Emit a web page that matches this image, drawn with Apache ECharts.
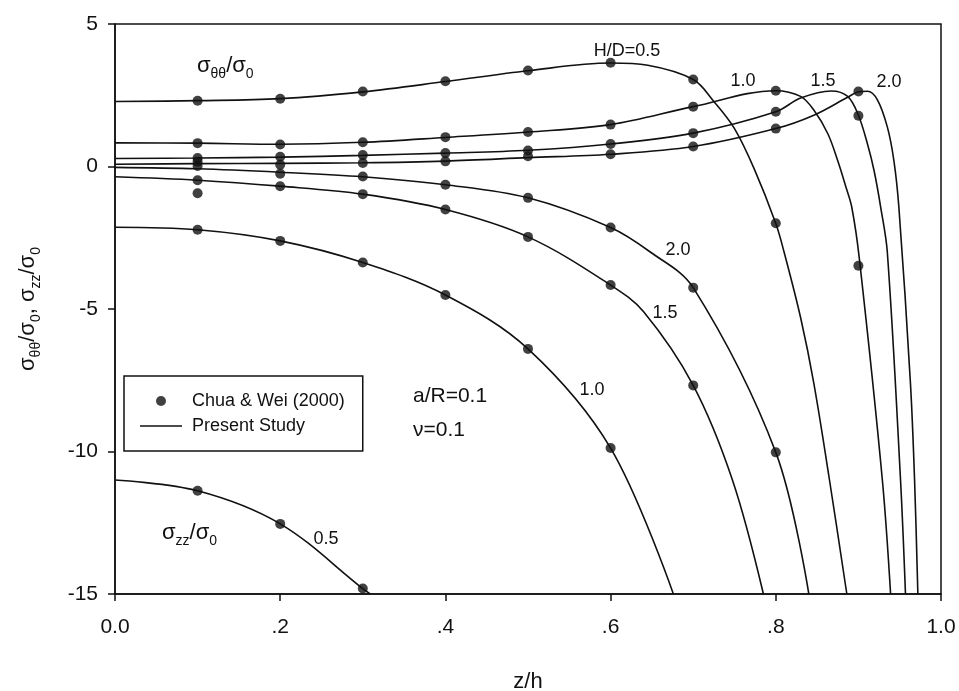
<!DOCTYPE html>
<html>
<head>
<meta charset="utf-8">
<script src="https://cdn.jsdelivr.net/npm/echarts@6/dist/echarts.min.js"></script>
<style>
  html, body { margin: 0; padding: 0; background: #ffffff; }
  #chart { width: 959px; height: 691px; }
</style>
</head>
<body>
<div id="chart"></div>
<script>
// ---- axis ticks ----
const xTicks = [0, 0.2, 0.4, 0.6, 0.8, 1.0];
const xTickLabels = ['0.0', '.2', '.4', '.6', '.8', '1.0'];
const yTicks = [-15, -10, -5, 0, 5];

// ---- Present Study: hoop stress  sigma_theta-theta / sigma_0  (H/D = 0.5, 1.0, 1.5, 2.0) ----
const thetaLine05 = [[0,2.28],[0.1,2.31],[0.2,2.38],[0.3,2.62],[0.4,2.98],[0.5,3.36],[0.6,3.63],[0.645,3.55],[0.7,3.05],[0.725,2.28],[0.75,1.33],[0.774,-0.09],[0.8,-2.0],[0.81,-3.0],[0.83,-5.3],[0.846,-7.6],[0.865,-11.0],[0.886,-15]];
const thetaLine10 = [[0,0.83],[0.1,0.82],[0.2,0.78],[0.3,0.85],[0.4,1.02],[0.5,1.21],[0.6,1.47],[0.7,2.10],[0.8,2.66],[0.83,2.46],[0.846,1.98],[0.863,1.15],[0.875,0.2],[0.885,-0.73],[0.892,-1.43],[0.901,-3.2],[0.929,-11.0],[0.939,-15]];
const thetaLine15 = [[0,0.28],[0.1,0.30],[0.2,0.33],[0.3,0.39],[0.4,0.47],[0.5,0.57],[0.6,0.79],[0.7,1.17],[0.8,1.92],[0.83,2.4],[0.867,2.65],[0.887,2.46],[0.9,1.80],[0.911,0.79],[0.919,-0.15],[0.927,-1.43],[0.935,-3.0],[0.951,-11.0],[0.957,-15]];
const thetaLine20 = [[0,0.08],[0.1,0.10],[0.2,0.11],[0.3,0.13],[0.4,0.19],[0.5,0.31],[0.6,0.43],[0.7,0.70],[0.8,1.33],[0.846,1.80],[0.887,2.43],[0.9,2.62],[0.911,2.64],[0.923,2.34],[0.935,1.39],[0.943,0.20],[0.949,-1.43],[0.963,-7.6],[0.968,-11.0],[0.972,-15]];

// ---- Present Study: axial stress  sigma_zz / sigma_0 ----
const zzLine05 = [[0,-11.0],[0.1,-11.38],[0.2,-12.54],[0.3,-14.81],[0.309,-15]];
const zzLine10 = [[0,-2.13],[0.1,-2.22],[0.2,-2.61],[0.3,-3.37],[0.4,-4.51],[0.5,-6.40],[0.6,-9.88],[0.676,-15]];
const zzLine15 = [[0,-0.36],[0.1,-0.48],[0.2,-0.69],[0.3,-0.97],[0.4,-1.51],[0.5,-2.47],[0.6,-4.16],[0.64,-5.1],[0.7,-7.68],[0.7475,-11.0],[0.785,-15]];
const zzLine20 = [[0,-0.03],[0.1,-0.08],[0.2,-0.2],[0.3,-0.36],[0.4,-0.64],[0.5,-1.10],[0.6,-2.14],[0.648,-3.0],[0.7,-4.25],[0.8,-10.03],[0.84,-15]];

// ---- Chua & Wei (2000) ----
const thetaPts05 = [[0.1,2.31],[0.2,2.38],[0.3,2.63],[0.4,2.99],[0.5,3.37],[0.6,3.64],[0.7,3.05],[0.8,-1.99]];
const thetaPts10 = [[0.1,0.82],[0.2,0.77],[0.3,0.85],[0.4,1.03],[0.5,1.21],[0.6,1.47],[0.7,2.10],[0.8,2.66],[0.9,-3.48]];
const thetaPts15 = [[0.1,0.30],[0.2,0.34],[0.3,0.40],[0.4,0.47],[0.5,0.56],[0.6,0.79],[0.7,1.17],[0.8,1.92],[0.9,1.78]];
const thetaPts20 = [[0.1,0.17],[0.2,0.06],[0.3,0.12],[0.4,0.18],[0.5,0.36],[0.6,0.43],[0.7,0.70],[0.8,1.33],[0.9,2.63]];
const zzPts05 = [[0.1,-11.38],[0.2,-12.54],[0.3,-14.81]];
const zzPts10 = [[0.1,-2.22],[0.2,-2.61],[0.3,-3.37],[0.4,-4.51],[0.5,-6.40],[0.6,-9.88]];
const zzPts15 = [[0.1,-0.48],[0.2,-0.69],[0.3,-0.97],[0.4,-1.51],[0.5,-2.47],[0.6,-4.16],[0.7,-7.68]];
const zzPts20 = [[0.1,0.02],[0.2,-0.25],[0.3,-0.35],[0.4,-0.64],[0.5,-1.10],[0.6,-2.14],[0.7,-4.25],[0.8,-10.03]];
const extraPts = [[0.1,-0.94]];

// ---- styling ----
const FONT = '"Liberation Sans", Arial, Helvetica, sans-serif';
const INK = '#111111';

const subRich = {
  m: { fontFamily: FONT, fontSize: 22, color: INK, lineHeight: 30 },
  s: { fontFamily: FONT, fontSize: 14, color: INK, lineHeight: 12, verticalAlign: 'bottom' }
};

function curve(data) {
  return {
    type: 'line', name: 'Present Study', data: data,
    smooth: 0.35, symbol: 'none', showSymbol: false,
    lineStyle: { color: INK, width: 1.6 }, itemStyle: { color: INK },
    silent: true, z: 2
  };
}
function points(data) {
  return {
    type: 'scatter', name: 'Chua & Wei (2000)', data: data,
    symbol: 'circle', symbolSize: 10, itemStyle: { color: INK },
    silent: true, z: 3
  };
}

function label(x, y, text, size, align) {
  return {
    type: 'text', x: x, y: y, silent: true, z: 10,
    style: {
      text: text, fontFamily: FONT, fontSize: size, fill: INK,
      align: align || 'center', verticalAlign: 'middle', rich: subRich
    }
  };
}

const chart = echarts.init(document.getElementById('chart'), null, { renderer: 'canvas' });

chart.setOption({
  animation: false,
  backgroundColor: '#ffffff',
  grid: {
    left: 115, right: 18, top: 24, bottom: 97,
    containLabel: false, outerBoundsMode: 'none',
    show: true, borderColor: INK, borderWidth: 1.5, backgroundColor: 'transparent'
  },
  xAxis: {
    type: 'value', min: 0, max: 1, interval: 0.2,
    name: 'z/h', nameLocation: 'middle', nameGap: 77,
    nameTextStyle: { fontFamily: FONT, fontSize: 22, color: INK },
    axisLine: { show: true, onZero: false, lineStyle: { color: INK, width: 1.5 } },
    axisTick: { show: true, inside: false, length: 7, lineStyle: { color: INK, width: 1.5 } },
    axisLabel: {
      margin: 23, fontFamily: FONT, fontSize: 21, color: INK,
      formatter: function (v) { return xTickLabels[Math.round(v / 0.2)]; }
    },
    splitLine: { show: false }
  },
  yAxis: {
    type: 'value', min: yTicks[0], max: yTicks[yTicks.length - 1], interval: 5,
    name: '{m|σ}{s|θθ}{m|/σ}{s|0}{m|, σ}{s|zz}{m|/σ}{s|0}',
    nameLocation: 'middle', nameGap: 72,
    nameTextStyle: { fontFamily: FONT, fontSize: 22, color: INK, rich: subRich },
    axisLine: { show: true, onZero: false, lineStyle: { color: INK, width: 1.5 } },
    axisTick: { show: true, inside: false, length: 7, lineStyle: { color: INK, width: 1.5 } },
    axisLabel: { margin: 17, fontFamily: FONT, fontSize: 21, color: INK },
    splitLine: { show: false }
  },
  legend: {
    orient: 'vertical', left: 124, top: 376,
    padding: [16, 18, 16, 16],
    itemWidth: 42, itemHeight: 10, itemGap: 7,
    symbolKeepAspect: true,
    borderColor: INK, borderWidth: 1.5, backgroundColor: '#ffffff',
    selectedMode: false,
    textStyle: { fontFamily: FONT, fontSize: 18, color: INK, padding: [0, 0, 0, 5] },
    data: [
      { name: 'Chua & Wei (2000)', icon: 'circle' },
      { name: 'Present Study', icon: 'path://M0,0 L42,0 L42,1.6 L0,1.6 Z' }
    ]
  },
  series: [
    curve(thetaLine05), curve(thetaLine10), curve(thetaLine15), curve(thetaLine20),
    curve(zzLine05), curve(zzLine10), curve(zzLine15), curve(zzLine20),
    points(thetaPts05), points(thetaPts10), points(thetaPts15), points(thetaPts20),
    points(zzPts05), points(zzPts10), points(zzPts15), points(zzPts20),
    points(extraPts)
  ],
  graphic: [
    label(197, 66, '{m|σ}{s|θθ}{m|/σ}{s|0}', 22, 'left'),
    label(162, 533, '{m|σ}{s|zz}{m|/σ}{s|0}', 22, 'left'),
    label(627, 51, 'H/D=0.5', 18),
    label(743, 81, '1.0', 18),
    label(823, 81, '1.5', 18),
    label(889, 82, '2.0', 18),
    label(678, 250, '2.0', 18),
    label(665, 313, '1.5', 18),
    label(592, 390, '1.0', 18),
    label(326, 539, '0.5', 18),
    label(413, 396, 'a/R=0.1', 21, 'left'),
    label(413, 430, 'ν=0.1', 21, 'left')
  ]
});
</script>
</body>
</html>
